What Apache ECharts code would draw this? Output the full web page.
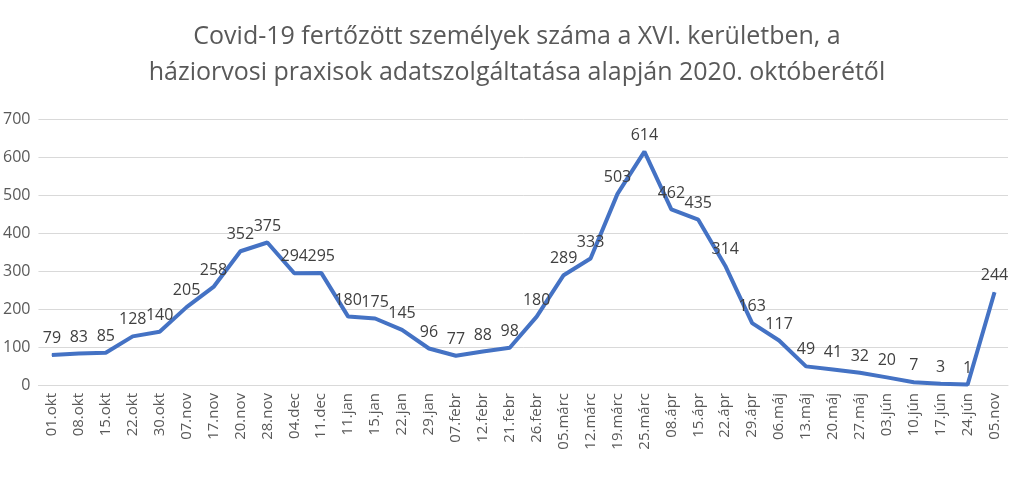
<!DOCTYPE html><html><head><meta charset="utf-8"><script src="https://cdn.jsdelivr.net/npm/echarts@6/dist/echarts.min.js"></script></head><body style="margin:0;background:#fff"><div id="c" style="width:1034px;height:480px"></div><script>
const categories=['01.okt','08.okt','15.okt','22.okt','30.okt','07.nov','17.nov','20.nov','28.nov','04.dec','11.dec','11.jan','15.jan','22.jan','29.jan','07.febr','12.febr','21.febr','26.febr','05.márc','12.márc','19.márc','25.márc','08.ápr','15.ápr','22.ápr','29.ápr','06.máj','13.máj','20.máj','27.máj','03.jún','10.jún','17.jún','24.jún','05.nov'];
const values=[79,83,85,128,140,205,258,352,375,294,295,180,175,145,96,77,88,98,180,289,333,503,614,462,435,314,163,117,49,41,32,20,7,3,1,244];
const chart=echarts.init(document.getElementById('c'));
chart.setOption({
title:{text:'Covid-19 fertőzött személyek száma a XVI. kerületben, a\nháziorvosi praxisok adatszolgáltatása alapján 2020. októberétől',left:'center',top:14,textStyle:{fontFamily:'Open Sans',fontWeight:'normal',fontSize:25,color:'#595959',lineHeight:36}},
grid:{left:37,right:26,top:119,bottom:95},
xAxis:{type:'category',data:categories,axisTick:{show:false},axisLine:{lineStyle:{color:'#d9d9d9'}},axisLabel:{rotate:90,color:'#595959',fontSize:15,fontFamily:'Open Sans',interval:0}},
yAxis:{type:'value',min:0,max:700,interval:100,axisLabel:{color:'#595959',fontSize:16,fontFamily:'Open Sans'},splitLine:{lineStyle:{color:'#d9d9d9'}}},
series:[{type:'line',data:values,symbol:'circle',symbolSize:1,showAllSymbol:true,itemStyle:{color:'#4472c4'},lineStyle:{color:'#4472c4',width:4},label:{show:true,position:'top',distance:8,color:'#404040',fontSize:16,fontFamily:'Open Sans'},labelLayout:{hideOverlap:false}}]
});
</script></body></html>
